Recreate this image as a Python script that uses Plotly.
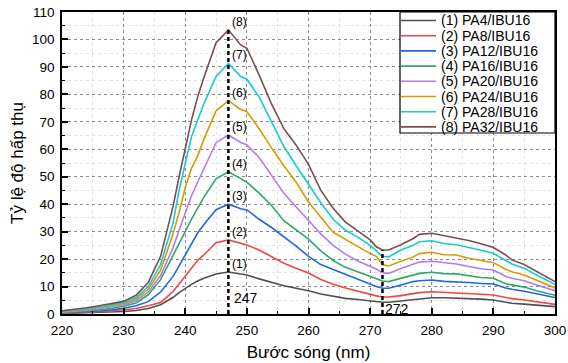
import plotly.graph_objects as go

wavelength = [220, 222, 224, 226, 228, 230, 232, 234, 236, 238, 239, 240, 241, 242, 243, 245, 247, 249, 250,
              252, 254, 256, 258, 260, 262, 264, 266, 268, 270, 271, 272, 273, 275, 277, 278, 280, 282, 284,
              286, 288, 290, 292, 293, 295, 297, 300]

pa4 = [0.2, 0.3, 0.4, 0.5, 0.7, 0.9, 1.3, 2.0, 3.4, 6.0, 7.8, 9.4, 10.8, 12.0, 13.0, 14.6, 15.3, 14.6, 14.2,
       12.8, 11.5, 10.3, 9.4, 8.5, 7.3, 6.4, 5.7, 5.3, 4.8, 4.5, 4.3, 4.3, 4.8, 5.3, 5.6, 5.9, 5.9, 5.8,
       5.6, 5.4, 5.1, 4.3, 3.9, 3.6, 3.2, 2.7]
pa8 = [0.3, 0.4, 0.6, 0.8, 1.1, 1.5, 2.0, 3.0, 4.2, 8.1, 11.0, 14.0, 16.5, 19.5, 21.5, 26.0, 27.0, 25.6, 25.1,
       23.3, 20.8, 18.5, 16.7, 14.9, 12.6, 10.8, 9.5, 8.3, 7.2, 6.6, 6.2, 6.2, 6.7, 7.5, 7.8, 8.1, 7.9, 7.8,
       7.5, 7.2, 6.9, 6.0, 5.6, 5.1, 4.5, 3.5]
pa12 = [0.4, 0.6, 0.8, 1.1, 1.5, 2.1, 3.0, 4.5, 8.0, 13.6, 17.5, 21.5, 25.5, 29.5, 32.5, 38.0, 40.0, 38.3, 37.9,
        34.5, 31.5, 28.2, 24.7, 21.0, 18.0, 16.2, 14.4, 12.5, 10.7, 10.0, 9.4, 9.4, 10.6, 11.8, 12.1, 12.4, 11.9, 11.8,
        11.5, 11.1, 10.9, 9.5, 9.0, 8.3, 7.3, 6.0]
pa16 = [0.5, 0.8, 1.1, 1.5, 2.0, 2.8, 4.0, 7.0, 12.5, 21.0, 25.5, 30.0, 34.5, 38.5, 42.5, 49.2, 51.8, 49.3, 48.0,
        44.0, 39.5, 34.0, 30.8, 27.3, 23.0, 19.5, 17.0, 15.3, 13.6, 13.0, 12.0, 11.8, 13.0, 14.2, 14.8, 15.2, 14.7, 14.6,
        13.9, 13.3, 13.0, 11.0, 10.6, 9.8, 8.5, 6.8]
pa20 = [0.7, 1.0, 1.4, 1.9, 2.5, 3.3, 4.8, 8.0, 14.0, 24.0, 30.5, 37.0, 43.0, 48.0, 53.0, 62.4, 65.2, 62.5, 61.6,
        57.0, 50.5, 44.0, 39.0, 34.2, 29.2, 25.0, 21.8, 19.3, 17.3, 16.4, 15.0, 14.8, 16.6, 18.2, 18.9, 19.2, 18.6, 18.2,
        17.3, 16.5, 16.0, 13.7, 13.0, 12.1, 10.6, 8.5]
pa24 = [0.8, 1.2, 1.7, 2.3, 3.0, 3.7, 5.4, 9.0, 16.0, 29.0, 37.0, 46.0, 53.0, 57.5, 63.5, 74.0, 77.7, 74.5, 73.7,
        67.5, 60.5, 54.0, 48.0, 40.8, 35.2, 29.8, 27.2, 24.5, 22.0, 21.0, 18.0, 17.5, 19.1, 20.8, 22.0, 22.5, 21.6, 21.5,
        20.3, 19.4, 18.7, 16.3, 15.4, 14.2, 12.4, 9.5]
pa28 = [1.0, 1.4, 2.0, 2.6, 3.3, 4.1, 6.0, 10.0, 18.0, 33.0, 45.0, 55.0, 64.5, 70.5, 76.5, 86.5, 91.3, 86.5, 85.5,
        79.0, 70.0, 61.0, 54.0, 47.0, 40.5, 34.5, 30.5, 28.0, 25.0, 23.0, 21.0, 20.8, 23.3, 25.0, 26.3, 26.7, 25.7, 25.2,
        24.3, 23.2, 22.1, 19.5, 18.2, 16.7, 14.2, 10.8]
pa32 = [1.2, 1.7, 2.3, 3.0, 3.7, 4.6, 6.8, 11.5, 21.0, 39.0, 50.0, 60.0, 70.5, 79.0, 86.0, 98.8, 103.5, 98.0, 96.8,
        87.0, 76.5, 67.5, 61.5, 54.5, 45.0, 38.5, 33.5, 30.3, 27.0, 24.5, 23.3, 23.3, 25.2, 27.5, 29.0, 29.4, 28.5, 27.8,
        26.8, 25.6, 24.2, 21.5, 19.7, 18.0, 15.4, 11.8]

series = [pa4, pa8, pa12, pa16, pa20, pa24, pa28, pa32]
names = ["(1) PA4/IBU16", "(2) PA8/IBU16", "(3) PA12/IBU16", "(4) PA16/IBU16",
         "(5) PA20/IBU16", "(6) PA24/IBU16", "(7) PA28/IBU16", "(8) PA32/IBU16"]
peak_labels = ["(1)", "(2)", "(3)", "(4)", "(5)", "(6)", "(7)", "(8)"]
colors = ["#505050", "#f24545", "#1f68e0", "#2fa868", "#b47ce8", "#d39c00", "#12cdd2", "#7a4e4e"]
peak_wl = 247
valley_wl = 272
x_ticks = [220, 230, 240, 250, 260, 270, 280, 290, 300]
y_ticks = [0, 10, 20, 30, 40, 50, 60, 70, 80, 90, 100, 110]

FONT = "Liberation Sans, Arial, sans-serif"

fig = go.Figure()
for name, ys, c in zip(names, series, colors):
    fig.add_trace(go.Scatter(x=wavelength, y=ys, mode="lines", name=name,
                             line=dict(color=c, width=1.6), showlegend=False))

ip = wavelength.index(peak_wl)
iv = wavelength.index(valley_wl)
fig.add_trace(go.Scatter(x=[peak_wl, peak_wl], y=[0, pa32[ip]], mode="lines", showlegend=False,
                         line=dict(color="black", width=2.5, dash="4px,3px")))
fig.add_trace(go.Scatter(x=[valley_wl, valley_wl], y=[0, pa32[iv]], mode="lines", showlegend=False,
                         line=dict(color="black", width=2.5, dash="4px,3px")))

for lab, ys in zip(peak_labels, series):
    fig.add_annotation(x=peak_wl, y=ys[ip], text=lab, showarrow=False, xanchor="left", yanchor="bottom",
                       xshift=2, yshift=-1, font=dict(size=12, color="black", family=FONT))

fig.add_annotation(x=peak_wl, y=6, text=str(peak_wl), showarrow=False, xanchor="left", yanchor="middle",
                   xshift=4, font=dict(size=14, color="black", family=FONT))
fig.add_annotation(x=valley_wl, y=2, text=str(valley_wl), showarrow=False, xanchor="left", yanchor="middle",
                   xshift=1, font=dict(size=14, color="black", family=FONT))

# custom legend box
L, R, T, B = 62, 555, 12, 314
W, H = R - L, B - T
def px(xp):
    return (xp - L) / W
def py(yp):
    return 1 - (yp - T) / H

fig.add_shape(type="rect", xref="paper", yref="paper", x0=px(400), x1=px(555), y0=py(133), y1=py(12),
              line=dict(color="black", width=1.2), fillcolor="white", layer="above")
for i, (name, c) in enumerate(zip(names, colors)):
    yc = 20.5 + 15.2 * i
    fig.add_shape(type="line", xref="paper", yref="paper", x0=px(401), x1=px(436), y0=py(yc), y1=py(yc),
                  line=dict(color=c, width=1.6), layer="above")
    fig.add_annotation(xref="paper", yref="paper", x=px(439), y=py(yc), text=name, showarrow=False,
                       xanchor="left", yanchor="middle", font=dict(size=14, color="black", family=FONT))

axis_common = dict(
    showline=True, linecolor="black", linewidth=1.5, mirror=True,
    ticks="inside", ticklen=6, tickwidth=1.5, tickcolor="black",
    showgrid=True, gridcolor="#8a8a8a", griddash="dot", gridwidth=1,
    zeroline=False, automargin=False,
    tickfont=dict(size=13.5, color="black", family=FONT),
    minor=dict(dtick=5, showgrid=True, gridcolor="#e2e2e2", gridwidth=1,
               ticks="inside", ticklen=3, tickcolor="black", tickwidth=1.2),
)

fig.update_xaxes(range=[220, 300], tickvals=x_ticks, ticklabelstandoff=3, **axis_common,
                 title=dict(text="Bước sóng (nm)", font=dict(size=17, color="black", family=FONT), standoff=9))
fig.update_yaxes(range=[0, 110], tickvals=y_ticks, ticklabelstandoff=3, **axis_common,
                 title=dict(text="Tỷ lệ độ hấp thụ", font=dict(size=17, color="black", family=FONT), standoff=4))

fig.update_layout(width=568, height=363, margin=dict(l=L, r=568 - R, t=T, b=363 - B),
                  paper_bgcolor="white", plot_bgcolor="white", showlegend=False,
                  font=dict(family=FONT, color="black"))

fig.write_html("out.html")
